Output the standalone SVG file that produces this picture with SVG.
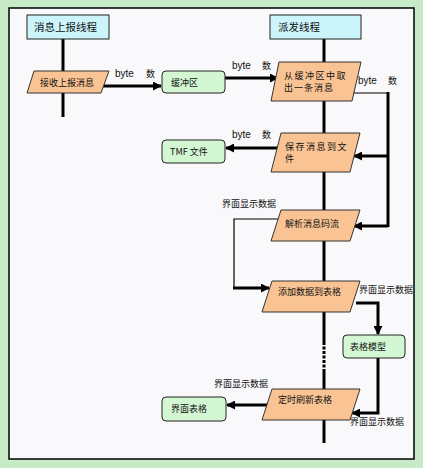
<svg xmlns="http://www.w3.org/2000/svg" width="423" height="468" viewBox="0 0 423 468">
<defs>
<style>
.bg{fill:#c6ebc6}
.panel{fill:#f9f9fb;stroke:#000;stroke-width:1.5}
.hdr{fill:#ccf5fb;stroke:#222;stroke-width:1}
.proc{fill:#f9c393;stroke:#333;stroke-width:1}
.store{fill:#d3f7d3;stroke:#222;stroke-width:1}
.t{font-family:"Noto Sans CJK SC","Liberation Sans",sans-serif;font-size:9px;fill:#111}
.th{font-family:"Noto Sans CJK SC","Liberation Sans",sans-serif;font-size:10.5px;fill:#111}
.lb{font-family:"Liberation Sans","Noto Sans CJK SC",sans-serif;font-size:10px;fill:#111}
.thick{fill:none;stroke:#000;stroke-width:3}
.thin{fill:none;stroke:#000;stroke-width:1.2}
</style>
<marker id="ah" viewBox="0 0 10 10" refX="9" refY="5" markerWidth="3" markerHeight="3" orient="auto">
<path d="M0,0 L10,5 L0,10 z" fill="#000"/>
</marker>
</defs>
<rect class="bg" x="0" y="0" width="423" height="468"/>
<rect class="panel" x="9" y="8" width="405" height="451"/>

<g id="connectors">
<line class="thick" x1="63" y1="39" x2="63" y2="117"/>
<line class="thick" x1="324" y1="39" x2="324" y2="342"/>
<line x1="324" y1="342" x2="324" y2="372" stroke="#000" stroke-width="3" stroke-dasharray="3,1.5"/>
<line class="thick" x1="324" y1="372" x2="324" y2="443"/>
<line class="thick" x1="101" y1="86" x2="161" y2="86" marker-end="url(#ah)"/>
<line class="thick" x1="225" y1="78" x2="278" y2="78" marker-end="url(#ah)"/>
<polyline class="thin" points="352,93 388,93"/>
<line class="thick" x1="388" y1="92" x2="388" y2="227"/>
<line class="thick" x1="388" y1="156" x2="354" y2="156" marker-end="url(#ah)"/>
<line class="thick" x1="388" y1="226" x2="354" y2="226" marker-end="url(#ah)"/>
<line class="thick" x1="286" y1="148" x2="226" y2="148" marker-end="url(#ah)"/>
<polyline class="thin" points="280,219 234,219 234,288"/>
<line class="thick" x1="233" y1="288" x2="269" y2="288" marker-end="url(#ah)"/>
<polyline class="thick" points="356,303 378,303 378,334" marker-end="url(#ah)"/>
<polyline class="thick" points="378,358 378,413 352,413" marker-end="url(#ah)"/>
<line class="thick" x1="270" y1="405" x2="227" y2="405" marker-end="url(#ah)"/>
<text class="lb" x="115" y="77">byte</text><text class="t" x="146" y="77">数</text>
<text class="lb" x="232" y="69">byte</text><text class="t" x="262" y="69">数</text>
<text class="lb" x="358" y="84">byte</text><text class="t" x="388" y="84">数</text>
<text class="lb" x="232" y="138">byte</text><text class="t" x="262" y="138">数</text>
<text class="t" x="222" y="207">界面显示数据</text>
<text class="t" x="359" y="293">界面显示数据</text>
<text class="t" x="214" y="387">界面显示数据</text>
<text class="t" x="350" y="425">界面显示数据</text>
</g>

<g id="hdr-left">
<rect class="hdr" x="27" y="15" width="82" height="24"/>
<text class="th" x="34" y="31">消息上报线程</text>
</g>
<g id="hdr-right">
<rect class="hdr" x="270" y="15" width="91" height="24"/>
<text class="th" x="278" y="31">派发线程</text>
</g>
<g id="recv">
<polygon class="proc" points="34,71 109,71 101,93 27,93"/>
<text class="t" x="40" y="86">接收上报消息</text>
</g>
<g id="buffer">
<rect class="store" x="162" y="71" width="63" height="22" rx="4"/>
<text class="t" x="171" y="86">缓冲区</text>
</g>
<g id="fetch">
<polygon class="proc" points="279,62 361,62 352,101 271,101"/>
<text class="t" x="284" y="79" letter-spacing="1.5">从缓冲区中取</text>
<text class="t" x="284" y="91" letter-spacing="1">出一条消息</text>
</g>
<g id="save">
<polygon class="proc" points="281,133 360,133 350,172 271,172"/>
<text class="t" x="285" y="150" letter-spacing="1.5">保存消息到文</text>
<text class="t" x="285" y="162">件</text>
</g>
<g id="tmf">
<rect class="store" x="162" y="140" width="63" height="23" rx="4"/>
<text class="t" x="170" y="155">TMF 文件</text>
</g>
<g id="parse">
<polygon class="proc" points="281,210 360,210 350,241 271,241"/>
<text class="t" x="285" y="227">解析消息码流</text>
</g>
<g id="add">
<polygon class="proc" points="272,281 360,281 350,312 262,312"/>
<text class="t" x="278" y="295">添加数据到表格</text>
</g>
<g id="model">
<rect class="store" x="343" y="335" width="62" height="23" rx="4"/>
<text class="t" x="350" y="350">表格模型</text>
</g>
<g id="refresh">
<polygon class="proc" points="272,389 360,389 350,420 262,420"/>
<text class="t" x="278" y="403">定时刷新表格</text>
</g>
<g id="ui-table">
<rect class="store" x="162" y="397" width="64" height="24" rx="4"/>
<text class="t" x="171" y="412">界面表格</text>
</g>
</svg>
